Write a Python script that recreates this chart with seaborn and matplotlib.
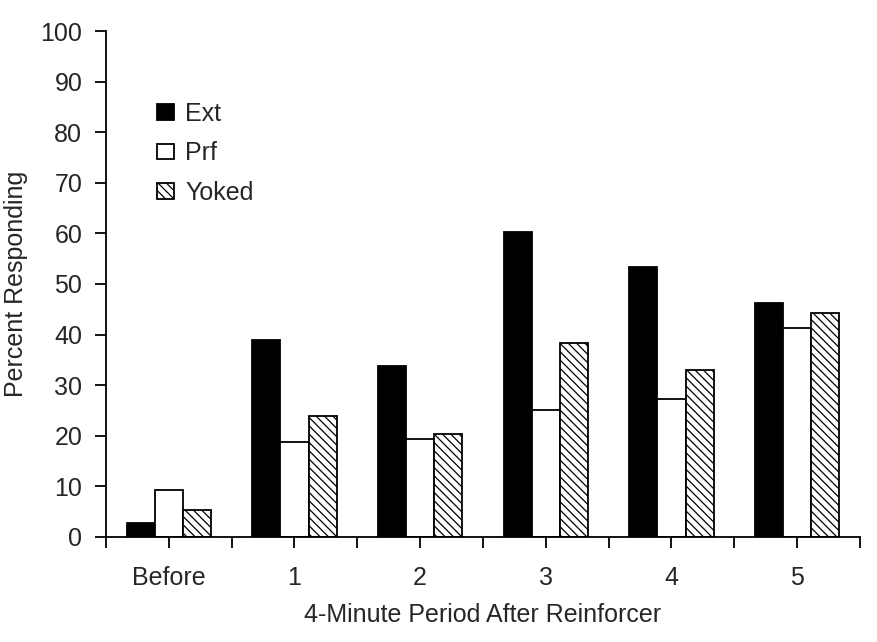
import numpy as np
import pandas as pd
import matplotlib
matplotlib.use('Agg')
import matplotlib.pyplot as plt
from matplotlib.patches import Patch
import seaborn as sns

# data
periods = ['Before', '1', '2', '3', '4', '5']
groups = ['Ext', 'Prf', 'Yoked']
ext_vals = [2.7, 39.0, 33.8, 60.3, 53.3, 46.2]
prf_vals = [9.3, 18.7, 19.3, 25.1, 27.2, 41.4]
yoked_vals = [5.3, 23.9, 20.4, 38.4, 33.0, 44.2]

df = pd.DataFrame({
    'Period': periods * 3,
    'Group': ['Ext'] * 6 + ['Prf'] * 6 + ['Yoked'] * 6,
    'Percent': ext_vals + prf_vals + yoked_vals,
})

sns.set_style('ticks')
plt.rcParams['font.family'] = ['Liberation Sans', 'DejaVu Sans']
plt.rcParams['hatch.linewidth'] = 0.9

fig = plt.figure(figsize=(8.78, 6.42), dpi=100)
ax = fig.add_axes([0.1207, 0.1636, 0.8588, 0.7881])

sns.barplot(data=df, x='Period', y='Percent', hue='Group', order=periods,
            hue_order=groups, palette=['black', 'white', 'white'],
            width=0.67, edgecolor='black', linewidth=1.3, saturation=1,
            errorbar=None, legend=False, ax=ax)

# hatch the yoked bars
for bar in ax.containers[2]:
    bar.set_hatch('\\\\\\\\')

ax.set_axisbelow(False)
ax.set_ylim(0, 100)
ax.set_yticks(np.arange(0, 101, 10))
ax.set_xlim(-0.5, 5.5)
ax.set_xticks(range(len(periods)))
ax.set_xticklabels(periods)
# tick marks at category boundaries as well as centres
ax.set_xticks(np.arange(-0.5, 6, 1), minor=True)
ax.tick_params(axis='both', which='both', direction='out', length=8,
               width=1.3, color='black', labelsize=18, bottom=True)
ax.tick_params(axis='x', which='major', pad=13)
ax.tick_params(axis='y', which='major', pad=9)
for s in ['top', 'right']:
    ax.spines[s].set_visible(False)
for s in ['left', 'bottom']:
    ax.spines[s].set_linewidth(1.3)
    ax.spines[s].set_color('black')

ax.set_xlabel('4-Minute Period After Reinforcer', fontsize=18, labelpad=9)
ax.set_ylabel('Percent Responding', fontsize=18, labelpad=9)

handles = [Patch(facecolor='black', edgecolor='black', linewidth=1.3),
           Patch(facecolor='white', edgecolor='black', linewidth=1.3),
           Patch(facecolor='white', edgecolor='black', linewidth=1.3, hatch='\\\\\\\\')]
ax.legend(handles, groups, loc='upper left', bbox_to_anchor=(0.0676, 0.86),
          frameon=False, fontsize=18, handlelength=0.68, handleheight=0.6,
          handletextpad=0.45, labelspacing=0.62, borderpad=0, borderaxespad=0)

fig.savefig('out.png', dpi=100)
